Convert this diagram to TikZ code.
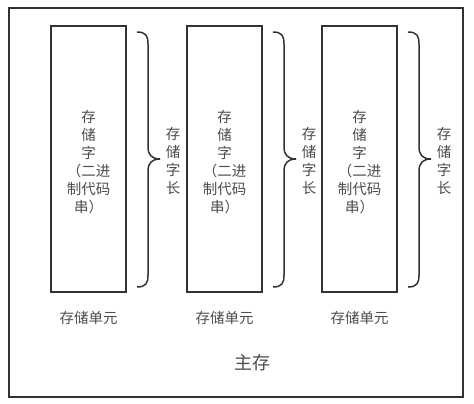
\documentclass[tikz,border=0pt]{standalone}
\usepackage{fontspec}
\setmainfont{Noto Sans CJK SC}
\begin{document}
\begin{tikzpicture}[x=1pt,y=-1pt,
  txt/.style={text=black!70, font=\fontsize{14.5}{18}\selectfont, align=center, inner sep=0pt},
  cell/.style={draw=black!80, line width=1.5pt, minimum width=75pt, minimum height=266pt, inner sep=0pt},
  brc/.style={draw=black!80, line width=1.5pt}]
\useasboundingbox (0,0) rectangle (474,404);
\node[draw=black!80, line width=2pt, minimum width=454pt, minimum height=389pt, inner sep=0pt] (main) at (235.5,202.5) {};
\foreach \i/\x in {1/88.5, 2/224.5, 3/359.5} {
  \node[cell] (c\i) at (\x,159) {};
  \node[txt] (t\i) at (\x,162) {存\\储\\字\\（二进\\制代码\\串）};
  \node[txt] (u\i) at (\x,318) {存储单元};
  \coordinate (b\i) at (\x+48.5,32);
  \draw[brc] (b\i) .. controls +(9,0) and +(0,-8) .. ++(11,12) -- ++(0,103)
     .. controls +(0,8) and +(-8,0) .. ++(12,12) coordinate (tip\i)
     .. controls +(-8,0) and +(0,-8) .. ++(-12,12) -- ++(0,104)
     .. controls +(0,8) and +(9,0) .. ++(-11,12);
  \node[txt] (l\i) at (\x+84.5,161) {存\\储\\字\\长};
}
\node[txt, font=\fontsize{18}{20}\selectfont] (zc) at (252,363) {主存};
\end{tikzpicture}
\end{document}
